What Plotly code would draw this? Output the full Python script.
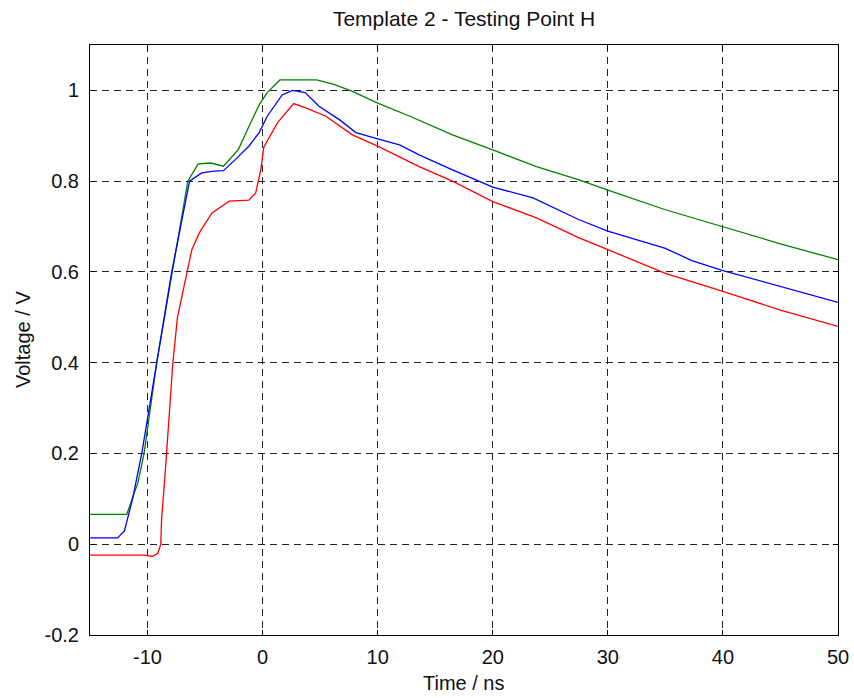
import plotly.graph_objects as go

# Time axis (ns) and measured voltages (V) for the three probes
t_green = [-15, -11.8, -11.2, -10.85, -10.3, -9.2, -7.85, -6.5, -5.6, -4.5, -3.4,
           -2.1, -1.2, -0.3, 0.4, 1.5, 4.7, 6.2, 7.8, 10, 12.8, 16.5, 20, 23.8,
           27.5, 30, 35, 40, 45, 50]
v_green = [0.066, 0.066, 0.11, 0.134, 0.2, 0.4, 0.6, 0.8, 0.838, 0.84, 0.833,
           0.87, 0.92, 0.968, 0.995, 1.023, 1.023, 1.013, 0.998, 0.972, 0.943, 0.902, 0.869, 0.832,
           0.803, 0.78, 0.737, 0.699, 0.662, 0.627]

t_blue = [-15, -12.6, -12.0, -11.3, -10.5, -9.2, -7.9, -6.35, -5.3, -4.2, -3.4,
          -2.35, -1.2, -0.3, 0.4, 1.7, 2.6, 3.7, 4.9, 6.7, 8.1, 10, 11.9, 13.6,
          16.5, 20, 23.5, 27.5, 30, 35, 37.3, 40, 44.9, 50]
v_blue = [0.014, 0.014, 0.03, 0.1, 0.2, 0.4, 0.6, 0.8, 0.818, 0.822, 0.823,
          0.848, 0.877, 0.907, 0.943, 0.99, 1.0, 0.995, 0.965, 0.935, 0.907, 0.893, 0.88, 0.858,
          0.825, 0.787, 0.763, 0.715, 0.69, 0.652, 0.625, 0.603, 0.568, 0.533]

t_red = [-15, -10.2, -9.6, -9.1, -8.85, -8.77, -8.53, -8.35, -7.8, -7.4, -6.56, -6.15,
         -5.5, -4.4, -2.9, -1.2, -0.6, -0.15, 0.1, 1.3, 2.7, 3.7, 5.5, 7.8, 10,
         13.6, 16.5, 20, 23.8, 27.5, 30, 35, 40, 45, 50]
v_red = [-0.024, -0.024, -0.027, -0.02, 0.0, 0.06, 0.134, 0.2, 0.4, 0.5, 0.6, 0.649,
         0.686, 0.73, 0.756, 0.758, 0.774, 0.826, 0.875, 0.929, 0.971, 0.962, 0.943, 0.902, 0.877,
         0.832, 0.8, 0.755, 0.719, 0.675, 0.649, 0.597, 0.557, 0.516, 0.48]

x_ticks = [-10, 0, 10, 20, 30, 40, 50]
x_tick_text = ["-10", "0", "10", "20", "30", "40", "50"]
y_ticks = [-0.2, 0, 0.2, 0.4, 0.6, 0.8, 1]
y_tick_text = ["-0.2", "0", "0.2", "0.4", "0.6", "0.8", "1"]

FONT = "Liberation Sans, Arial, sans-serif"
TEXT_COLOR = "#111111"

fig = go.Figure()
for t, v, col in [(t_green, v_green, "#008000"),
                  (t_blue, v_blue, "#0000ff"),
                  (t_red, v_red, "#ff0000")]:
    fig.add_trace(go.Scatter(x=t, y=v, mode="lines",
                             line=dict(color=col, width=1.3),
                             showlegend=False, hoverinfo="skip"))

axis_common = dict(
    showline=True, linecolor="black", linewidth=1, mirror="ticks",
    ticks="inside", ticklen=5, tickcolor="black",
    showgrid=True, gridcolor="#222222", gridwidth=1, griddash="7px,5px",
    zeroline=False,
    tickfont=dict(family=FONT, size=20, color=TEXT_COLOR),
)

fig.update_xaxes(range=[-15, 50], tickvals=x_ticks, ticktext=x_tick_text,
                 ticklabelstandoff=4, **axis_common)
fig.update_yaxes(range=[-0.2, 1.1], tickvals=y_ticks, ticktext=y_tick_text,
                 ticklabelstandoff=6, **axis_common)

fig.update_layout(
    width=854, height=698,
    margin=dict(l=90, r=16, t=45, b=63, autoexpand=False),
    paper_bgcolor="white", plot_bgcolor="white",
    title=dict(text="Template 2 - Testing Point H", x=0.5, xref="paper",
               y=1 - 19 / 698, yref="container", yanchor="middle", xanchor="center",
               font=dict(family=FONT, size=21, color=TEXT_COLOR)),
    annotations=[
        dict(text="Time / ns", xref="paper", yref="paper", x=0.5, y=(635 - 683) / 590,
             showarrow=False, xanchor="center", yanchor="middle",
             font=dict(family=FONT, size=20, color=TEXT_COLOR)),
        dict(text="Voltage / V", xref="paper", yref="paper", x=(23 - 90) / 748, y=0.5,
             showarrow=False, textangle=-90, xanchor="center", yanchor="middle",
             font=dict(family=FONT, size=20, color=TEXT_COLOR)),
    ],
)

fig.write_html("out.html")
